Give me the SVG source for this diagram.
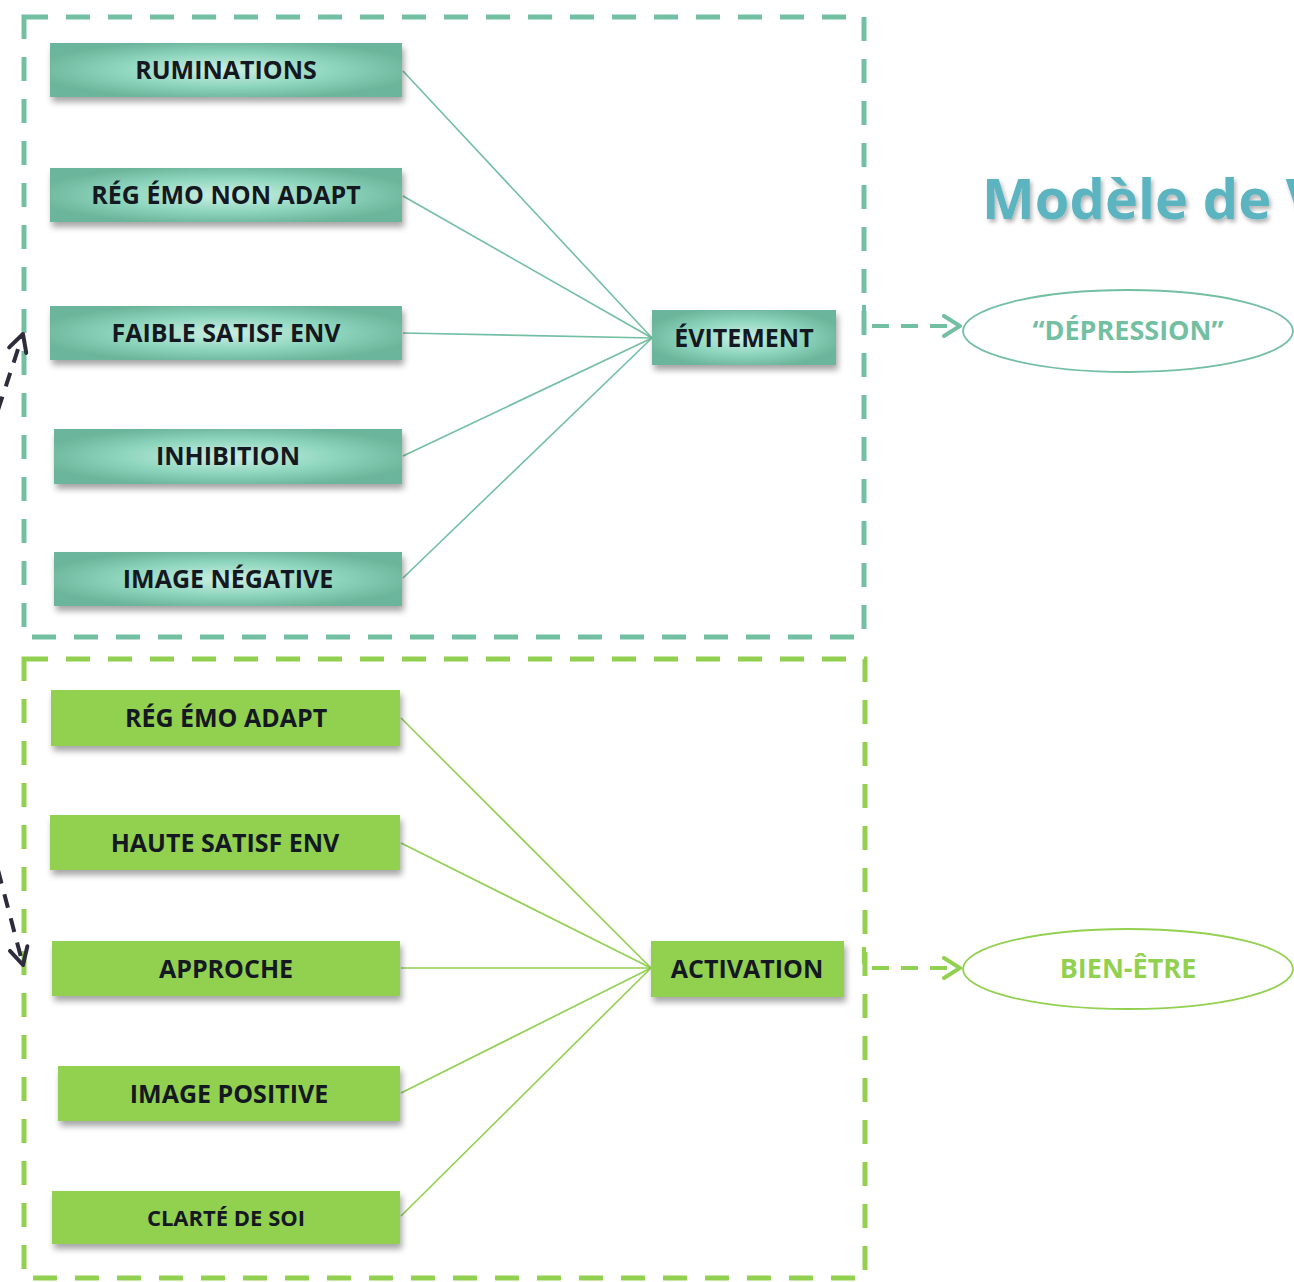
<svg xmlns="http://www.w3.org/2000/svg" width="1294" height="1282" viewBox="0 0 1294 1282">
<defs>
<radialGradient id="tg" cx="50%" cy="50%" r="55%">
<stop offset="0" stop-color="#CDEFE3"/>
<stop offset="0.55" stop-color="#8FD6BE"/>
<stop offset="1" stop-color="#6BB59B"/>
</radialGradient>
<filter id="sh" x="-10%" y="-20%" width="120%" height="160%">
<feDropShadow dx="2" dy="5" stdDeviation="3" flood-color="#000" flood-opacity="0.35"/>
</filter>
<filter id="tsh" x="-5%" y="-20%" width="110%" height="150%">
<feDropShadow dx="2" dy="3" stdDeviation="2" flood-color="#000" flood-opacity="0.3"/>
</filter>
<marker id="ta" viewBox="0 0 20 24" refX="18" refY="12" markerWidth="20" markerHeight="24" markerUnits="userSpaceOnUse" orient="auto">
<path d="M2,2 L18,12 L2,22" fill="none" stroke="#72BFA2" stroke-width="4" stroke-linecap="round"/>
</marker>
<marker id="ga" viewBox="0 0 20 24" refX="18" refY="12" markerWidth="20" markerHeight="24" markerUnits="userSpaceOnUse" orient="auto">
<path d="M2,2 L18,12 L2,22" fill="none" stroke="#92D050" stroke-width="4" stroke-linecap="round"/>
</marker>
<marker id="da" viewBox="0 0 24 24" refX="20" refY="12" markerWidth="24" markerHeight="24" markerUnits="userSpaceOnUse" orient="auto">
<path d="M3,3 L20,12 L3,21" fill="none" stroke="#2E2B3D" stroke-width="4" stroke-linecap="round" stroke-linejoin="round"/>
</marker>
</defs>
<style>
.frameT{fill:none;stroke:#72BFA2;stroke-width:5;stroke-dasharray:24 18}
.frameG{fill:none;stroke:#92D050;stroke-width:5;stroke-dasharray:24 18}
.tb{fill:url(#tg);filter:url(#sh)}
.gb{fill:#92D050;filter:url(#sh)}
.lbl{font-family:"Open Sans","Liberation Sans",sans-serif;font-weight:bold;font-size:25px;fill:#141820;text-anchor:middle}
.lt{stroke:#72BFA2;stroke-width:1.6;fill:none}
.lg{stroke:#92D050;stroke-width:1.6;fill:none}
.dt{stroke:#72BFA2;stroke-width:4;fill:none;stroke-dasharray:17 12}
.dg{stroke:#92D050;stroke-width:4;fill:none;stroke-dasharray:17 12}
.dd{stroke:#2E2B3D;stroke-width:4;fill:none;stroke-dasharray:14 11}
.ell{font-family:"Open Sans","Liberation Sans",sans-serif;font-weight:bold;font-size:27px;text-anchor:middle}
</style>
<rect width="1294" height="1282" fill="#FFFFFF"/>
<g id="frames">
<rect class="frameT" x="24" y="17" width="840" height="620"/>
<rect class="frameG" x="24" y="659" width="841" height="619"/>
</g>
<g id="title">
<text x="982" y="219" font-family="'Open Sans','Liberation Sans',sans-serif" font-weight="bold" font-size="56" fill="#5BB4C1" filter="url(#tsh)">Modèle de V</text>
</g>
<g id="connectors">
<line class="lt" x1="403" y1="71" x2="652" y2="338"/>
<line class="lt" x1="403" y1="196" x2="652" y2="338"/>
<line class="lt" x1="403" y1="333" x2="652" y2="338"/>
<line class="lt" x1="403" y1="456" x2="652" y2="338"/>
<line class="lt" x1="403" y1="578" x2="652" y2="338"/>
<line class="lg" x1="401" y1="718" x2="651" y2="968"/>
<line class="lg" x1="401" y1="843" x2="651" y2="968"/>
<line class="lg" x1="401" y1="968" x2="651" y2="968"/>
<line class="lg" x1="401" y1="1093" x2="651" y2="968"/>
<line class="lg" x1="401" y1="1216" x2="651" y2="968"/>
<path class="dt" d="M864,305 L864,326 L960,326" marker-end="url(#ta)"/>
<path class="dg" d="M864,947 L864,968 L960,968" marker-end="url(#ga)"/>
<path class="dd" d="M-2,410 L23,334" marker-end="url(#da)"/>
<path class="dd" d="M-2,870 L23,965" marker-end="url(#da)"/>
</g>
<g id="ruminations"><rect class="tb" x="50" y="43" width="352" height="54"/><text class="lbl" x="226" y="79">RUMINATIONS</text></g>
<g id="reg-emo-non-adapt"><rect class="tb" x="50" y="168" width="352" height="54"/><text class="lbl" x="226" y="204">RÉG ÉMO NON ADAPT</text></g>
<g id="faible-satisf-env"><rect class="tb" x="50" y="306" width="352" height="54"/><text class="lbl" x="226" y="342">FAIBLE SATISF ENV</text></g>
<g id="inhibition"><rect class="tb" x="54" y="429" width="348" height="55"/><text class="lbl" x="228" y="465">INHIBITION</text></g>
<g id="image-negative"><rect class="tb" x="54" y="552" width="348" height="54"/><text class="lbl" x="228" y="588">IMAGE NÉGATIVE</text></g>
<g id="evitement"><rect class="tb" x="652" y="310" width="184" height="55"/><text class="lbl" x="744" y="347">ÉVITEMENT</text></g>
<g id="reg-emo-adapt"><rect class="gb" x="51" y="690" width="349" height="56"/><text class="lbl" x="226" y="727">RÉG ÉMO ADAPT</text></g>
<g id="haute-satisf-env"><rect class="gb" x="50" y="815" width="350" height="55"/><text class="lbl" x="225" y="852">HAUTE SATISF ENV</text></g>
<g id="approche"><rect class="gb" x="52" y="941" width="348" height="55"/><text class="lbl" x="226" y="978">APPROCHE</text></g>
<g id="image-positive"><rect class="gb" x="58" y="1066" width="342" height="55"/><text class="lbl" x="229" y="1103">IMAGE POSITIVE</text></g>
<g id="clarte-de-soi"><rect class="gb" x="52" y="1191" width="348" height="53"/><text class="lbl" x="226" y="1226" style="font-size:22px">CLARTÉ DE SOI</text></g>
<g id="activation"><rect class="gb" x="651" y="941" width="193" height="56"/><text class="lbl" x="747" y="978">ACTIVATION</text></g>
<g id="depression"><ellipse cx="1128" cy="331" rx="165" ry="41" fill="#FFFFFF" stroke="#72BFA2" stroke-width="1.8"/><text class="ell" x="1128" y="340" fill="#72BFA2">“DÉPRESSION”</text></g>
<g id="bien-etre"><ellipse cx="1128" cy="969" rx="165" ry="40" fill="#FFFFFF" stroke="#92D050" stroke-width="1.8"/><text class="ell" x="1128" y="978" fill="#92D050">BIEN-ÊTRE</text></g>
</svg>
